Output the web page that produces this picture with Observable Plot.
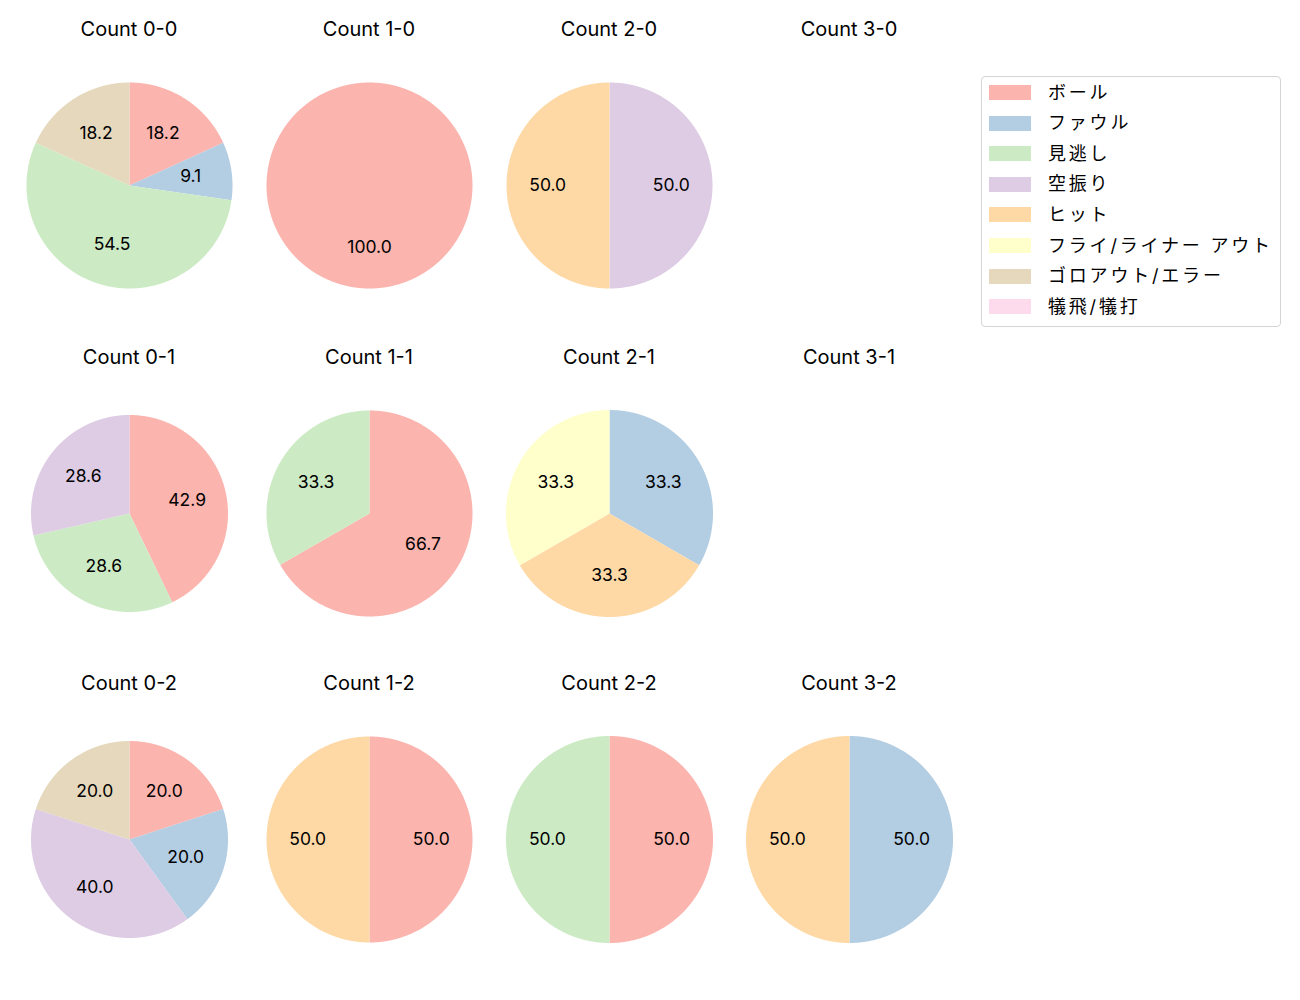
<!DOCTYPE html>
<html><head><meta charset="utf-8">
<script src="https://cdn.jsdelivr.net/npm/d3@7"></script>
<script src="https://cdn.jsdelivr.net/npm/@observablehq/plot@0.6"></script>
<style>
body{margin:0;background:#fff;font-family:Inter,"Noto Sans CJK JP",sans-serif;}
#root{position:relative;width:1300px;height:1000px;overflow:hidden;}
.title{position:absolute;font-size:20px;transform:translate(-50%,-50%);white-space:nowrap;color:#000;line-height:1;}
.cell{position:absolute;width:240px;height:240px;}
#legend{position:absolute;left:981px;top:76px;width:298px;height:249px;border:1px solid #d4d4d4;border-radius:4px;background:#fff;}
.sw{position:absolute;left:7px;width:42px;height:15px;}
.lt{position:absolute;left:66px;font-size:18px;line-height:1;letter-spacing:2.8px;transform:translateY(-50%);white-space:nowrap;color:#000;}
</style></head><body><div id="root"></div><script>
const categories = ["ボール","ファウル","見逃し","空振り","ヒット","フライ/ライナー アウト","ゴロアウト/エラー","犠飛/犠打"];
const colors = ["#fbb4ae","#b3cde3","#ccebc5","#decbe4","#fed9a6","#ffffcc","#e5d8bd","#fddaec"];
const countTitles = ["Count 0-0","Count 1-0","Count 2-0","Count 3-0","Count 0-1","Count 1-1","Count 2-1","Count 3-1","Count 0-2","Count 1-2","Count 2-2","Count 3-2"];
// percentages per category (same order as categories)
const pct00 = [18.2, 9.1, 54.5, 0, 0, 0, 18.2, 0];
const pct10 = [100, 0, 0, 0, 0, 0, 0, 0];
const pct20 = [0, 0, 0, 50, 50, 0, 0, 0];
const pct30 = [0, 0, 0, 0, 0, 0, 0, 0];
const pct01 = [42.9, 0, 28.6, 28.6, 0, 0, 0, 0];
const pct11 = [66.7, 0, 33.3, 0, 0, 0, 0, 0];
const pct21 = [0, 33.3, 0, 0, 33.3, 33.3, 0, 0];
const pct31 = [0, 0, 0, 0, 0, 0, 0, 0];
const pct02 = [20, 20, 0, 40, 0, 0, 20, 0];
const pct12 = [50, 0, 0, 0, 50, 0, 0, 0];
const pct22 = [50, 0, 50, 0, 0, 0, 0, 0];
const pct32 = [0, 50, 0, 0, 50, 0, 0, 0];
const pies = [pct00,pct10,pct20,pct30,pct01,pct11,pct21,pct31,pct02,pct12,pct22,pct32];

// layout
const colX = [129, 369, 609, 849];
const rowY = [185, 512.5, 838.5];
const radii = [103,103,103,103, 98.5,103,103.5,103, 98.5,103,103.5,103.5];

const root = document.getElementById("root");

pies.forEach((vals, i) => {
  const cx = colX[i % 4], cy = rowY[Math.floor(i / 4)];
  const t = document.createElement("div");
  t.className = "title"; t.textContent = countTitles[i];
  t.style.left = cx + "px"; t.style.top = (cy - 156) + "px";
  root.appendChild(t);
  const total = d3.sum(vals);
  if (!total) return;
  const pts = [], labels = [];
  let a = 0;
  vals.forEach((v, k) => {
    if (!v) return;
    const a0 = a, a1 = a + (v / total) * 2 * Math.PI;
    a = a1;
    pts.push({x: 0, y: 0, cat: categories[k]});
    const n = Math.max(2, Math.ceil((a1 - a0) / 0.005));
    for (let j = 0; j <= n; j++) {
      const th = a0 + (a1 - a0) * j / n;
      pts.push({x: Math.sin(th), y: Math.cos(th), cat: categories[k]});
    }
    pts.push({x: 0, y: 0, cat: categories[k]});
    const m = (a0 + a1) / 2;
    labels.push({x: 0.6 * Math.sin(m), y: 0.6 * Math.cos(m), text: v.toFixed(1)});
  });
  const r = radii[i];
  const mg = 120 - r;
  const chart = Plot.plot({
    width: 240, height: 240,
    marginLeft: mg, marginRight: mg, marginTop: mg, marginBottom: mg,
    x: {domain: [-1, 1], axis: null},
    y: {domain: [-1, 1], axis: null},
    color: {domain: categories, range: colors},
    style: {background: "transparent", overflow: "visible"},
    marks: [
      Plot.line(pts, {x: "x", y: "y", z: "cat", fill: "cat", stroke: null, curve: "linear"}),
      Plot.text(labels, {x: "x", y: "y", text: "text", fontSize: 17.5, fill: "#000", fontFamily: "Inter"})
    ]
  });
  const cell = document.createElement("div");
  cell.className = "cell";
  cell.style.left = (cx - 120) + "px"; cell.style.top = (cy - 120) + "px";
  cell.appendChild(chart);
  root.appendChild(cell);
});

const lg = document.createElement("div");
lg.id = "legend";
categories.forEach((c, k) => {
  const rowC = 15.5 + k * 30.6;
  const sw = document.createElement("div");
  sw.className = "sw"; sw.style.background = colors[k];
  sw.style.top = (rowC - 7.5) + "px";
  lg.appendChild(sw);
  const lt = document.createElement("div");
  lt.className = "lt"; lt.textContent = c;
  lt.style.top = rowC + "px";
  lg.appendChild(lt);
});
root.appendChild(lg);
</script></body></html>
